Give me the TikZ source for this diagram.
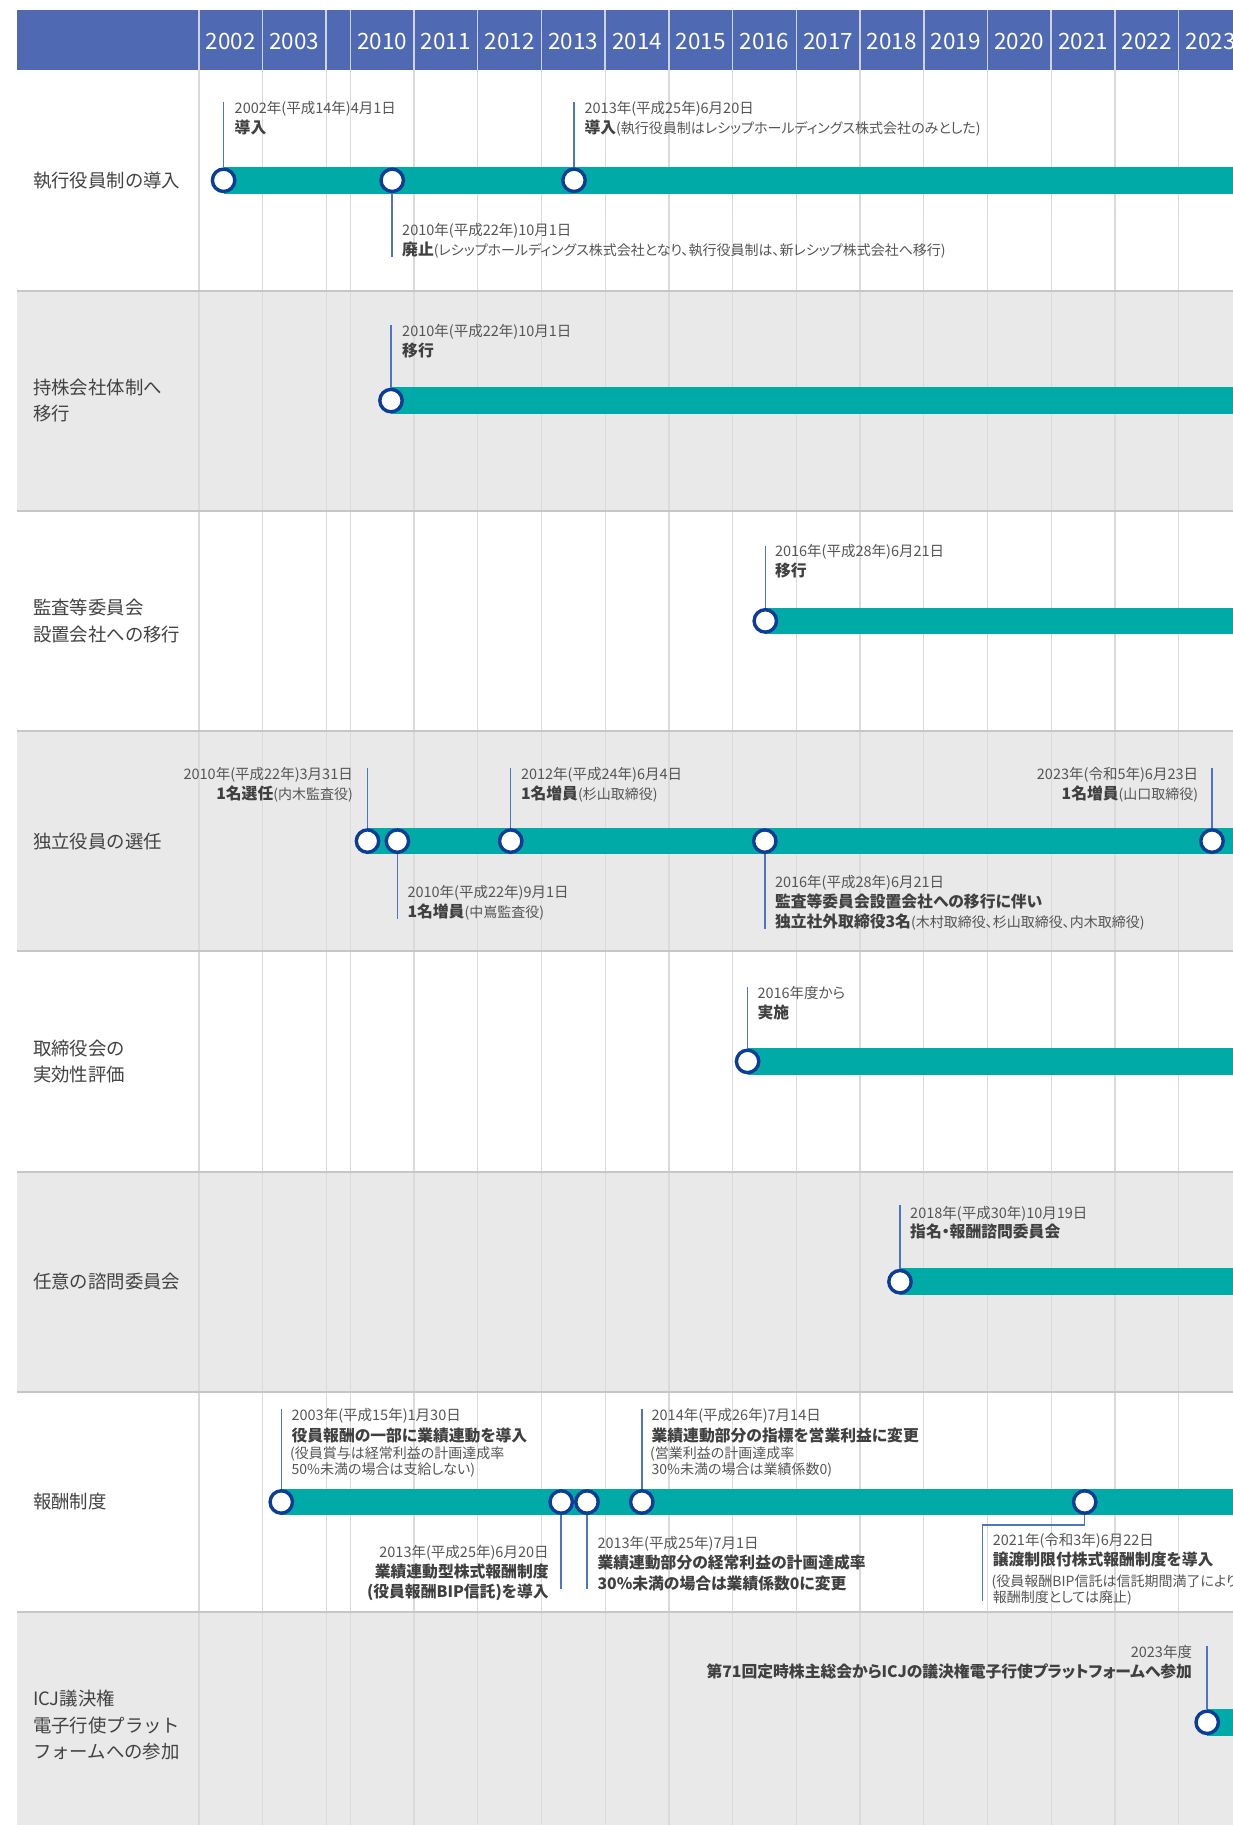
\documentclass[tikz,border=0pt]{standalone}
\usepackage{fontspec}
\setmainfont{Noto Sans CJK JP}[RawFeature=+palt]
\newfontfamily\yearfont{Noto Sans CJK JP}
\definecolor{hdr}{RGB}{79,105,178}
\definecolor{hdrline}{RGB}{205,212,235}
\definecolor{rowgray}{RGB}{233,233,233}
\definecolor{gridc}{RGB}{218,218,218}
\definecolor{sepc}{RGB}{198,198,198}
\definecolor{barteal}{RGB}{0,170,167}
\definecolor{evnavy}{RGB}{12,61,150}
\definecolor{pinblue}{RGB}{78,118,192}
\definecolor{datecol}{RGB}{85,85,85}
\definecolor{boldcol}{RGB}{64,64,64}
\definecolor{labcol}{RGB}{66,66,66}
\newcommand\smallnote[1]{{\mdseries\fontsize{14}{15}\selectfont\color{datecol}#1}}
\begin{document}
\begin{tikzpicture}[x=1pt,y=-1pt,
  evt/.style={circle, draw=evnavy, line width=3.4pt, fill=white, minimum size=22.4pt, inner sep=0pt},
  pinl/.style={draw=pinblue, line width=1.5pt},
  dt/.style={inner sep=0pt, text=datecol, font=\fontsize{14.5}{16}\selectfont, text height=12.7pt, text depth=1.8pt},
  bd/.style={inner sep=0pt, text=boldcol, font=\bfseries\fontsize{15.8}{17}\selectfont, text height=13.9pt, text depth=1.9pt},
  nt/.style={inner sep=0pt, text=datecol, font=\fontsize{14}{15}\selectfont, text height=12.3pt, text depth=1.7pt},
  lbl/.style={inner sep=0pt, text=labcol, font=\yearfont\fontsize{18.4}{26.3}\selectfont, align=left, anchor=west},
  yr/.style={text=white, font=\yearfont\fontsize{22.5}{24}\selectfont, inner sep=0pt, text height=16.4pt, text depth=0pt}
]
\useasboundingbox (0,0) rectangle (1233,1825);
\fill[white] (0,0) rectangle (1233,1825);
% row bands
\foreach \ya/\yb in {290.5/510.7, 731/951, 1171.5/1392, 1612/1840}
  \fill[rowgray] (17,\ya) rectangle (1240,\yb);
% grid
\foreach \gx in {198.9,262.6,326.2,350.3,414.0,477.7,541.4,605.2,668.9,732.6,796.3,860.0,923.8,987.5,1051.2,1114.9,1178.7}
  \draw[gridc, line width=1.3pt] (\gx,70) -- (\gx,1840);
\foreach \sy in {290.5,510.7,731,951,1171.5,1392,1612}
  \draw[sepc, line width=2pt] (17,\sy) -- (1240,\sy);
% header
\fill[hdr] (17,10) rectangle (1240,70);
\foreach \gx in {198.9,262.6,326.2,350.3,414.0,477.7,541.4,605.2,668.9,732.6,796.3,860.0,923.8,987.5,1051.2,1114.9,1178.7}
  \draw[hdrline, line width=1.5pt] (\gx,10) -- (\gx,70);
\foreach \yv/\xc in {2002/230.75,2003/294.4,2010/382.2,2011/445.9,2012/509.6,2013/573.3,2014/637.1,2015/700.8,2016/764.5,2017/828.2,2018/891.9,2019/955.6,2020/1019.4,2021/1083.1,2022/1146.8,2023/1210.5}
  \node[yr] (y\yv) at (\xc,41.2) {\yv};
% row labels
\node[lbl] (L1) at (32.8,180.3) {執行役員制の導入};
\node[lbl] (L2) at (32.8,400.6) {持株会社体制へ\\移行};
\node[lbl] (L3) at (32.8,620.9) {監査等委員会\\設置会社への移行};
\node[lbl] (L4) at (32.8,841.1) {独立役員の選任};
\node[lbl] (L5) at (32.8,1061.4) {取締役会の\\実効性評価};
\node[lbl] (L6) at (32.8,1281.7) {任意の諮問委員会};
\node[lbl] (L7) at (32.8,1502) {報酬制度};
\node[lbl] (L8) at (32.8,1725) {ICJ議決権\\電子行使プラット\\フォームへの参加};
% bars
\foreach \bx/\by in {223.6/180.3, 391.0/400.6, 765.3/620.9, 367.5/841.1, 747.6/1061.4, 900.0/1281.7, 281.3/1502, 1207.2/1722.3}
  \fill[barteal] (\bx,\by-13.3) rectangle (1240,\by+13.3);
% events
\node[evt] (r1a) at (223.6,180.3) {};
\node[evt] (r1b) at (392.2,180.3) {};
\node[evt] (r1c) at (574.0,180.3) {};
\node[evt] (r2a) at (391.0,400.6) {};
\node[evt] (r3a) at (765.3,620.9) {};
\node[evt] (r4a) at (367.5,841.1) {};
\node[evt] (r4b) at (397.4,841.1) {};
\node[evt] (r4c) at (510.7,841.1) {};
\node[evt] (r4d) at (764.8,841.1) {};
\node[evt] (r4e) at (1212.0,841.1) {};
\node[evt] (r5a) at (747.6,1061.4) {};
\node[evt] (r6a) at (900.0,1281.7) {};
\node[evt] (r7a) at (281.3,1502) {};
\node[evt] (r7b) at (561.2,1502) {};
\node[evt] (r7c) at (587.0,1502) {};
\node[evt] (r7d) at (641.8,1502) {};
\node[evt] (r7e) at (1084.7,1502) {};
\node[evt] (r8a) at (1207.2,1722.3) {};
% ---- row 1
\coordinate (r1a-t) at (223.6,102);
\draw[pinl] (r1a.north) -- (r1a-t);
\node[dt,anchor=west] (r1a-d) at (234.5,108) {2002年(平成14年)4月1日};
\node[bd,anchor=west] (r1a-m) at (234.5,127.7) {導入};
\coordinate (r1b-t) at (392.2,256.7);
\draw[pinl] (r1b.south) -- (r1b-t);
\node[dt,anchor=west] (r1b-d) at (402,230) {2010年(平成22年)10月1日};
\node[bd,anchor=west] (r1b-m) at (402,249.3) {廃止\smallnote{(レシップホールディングス株式会社となり、執行役員制は、新レシップ株式会社へ移行)}};
\coordinate (r1c-t) at (574.0,102);
\draw[pinl] (r1c.north) -- (r1c-t);
\node[dt,anchor=west] (r1c-d) at (584.4,108) {2013年(平成25年)6月20日};
\node[bd,anchor=west] (r1c-m) at (584.4,127.7) {導入\smallnote{(執行役員制はレシップホールディングス株式会社のみとした)}};
% ---- row 2
\coordinate (r2a-t) at (391.0,325);
\draw[pinl] (r2a.north) -- (r2a-t);
\node[dt,anchor=west] (r2a-d) at (402,331) {2010年(平成22年)10月1日};
\node[bd,anchor=west] (r2a-m) at (402,350) {移行};
% ---- row 3
\coordinate (r3a-t) at (765.3,545.7);
\draw[pinl] (r3a.north) -- (r3a-t);
\node[dt,anchor=west] (r3a-d) at (774.8,551) {2016年(平成28年)6月21日};
\node[bd,anchor=west] (r3a-m) at (774.8,570) {移行};
% ---- row 4
\coordinate (r4a-t) at (367.5,768.3);
\draw[pinl] (r4a.north) -- (r4a-t);
\node[dt,anchor=east] (r4a-d) at (353,774) {2010年(平成22年)3月31日};
\node[bd,anchor=east] (r4a-m) at (353,793.3) {1名選任\smallnote{(内木監査役)}};
\coordinate (r4b-t) at (397.4,919);
\draw[pinl] (r4b.south) -- (r4b-t);
\node[dt,anchor=west] (r4b-d) at (407.3,892.3) {2010年(平成22年)9月1日};
\node[bd,anchor=west] (r4b-m) at (407.3,911.7) {1名増員\smallnote{(中嶌監査役)}};
\coordinate (r4c-t) at (510.7,768.3);
\draw[pinl] (r4c.north) -- (r4c-t);
\node[dt,anchor=west] (r4c-d) at (520.8,774) {2012年(平成24年)6月4日};
\node[bd,anchor=west] (r4c-m) at (520.8,793.3) {1名増員\smallnote{(杉山取締役)}};
\coordinate (r4d-t) at (764.8,929.3);
\draw[pinl] (r4d.south) -- (r4d-t);
\node[dt,anchor=west] (r4d-d) at (774.8,881.7) {2016年(平成28年)6月21日};
\node[bd,anchor=west] (r4d-m) at (774.8,901) {監査等委員会設置会社への移行に伴い};
\node[bd,anchor=west] (r4d-n) at (774.8,921.7) {独立社外取締役3名\smallnote{(木村取締役、杉山取締役、内木取締役)}};
\coordinate (r4e-t) at (1212.0,768.3);
\draw[pinl] (r4e.north) -- (r4e-t);
\node[dt,anchor=east] (r4e-d) at (1198.3,774) {2023年(令和5年)6月23日};
\node[bd,anchor=east] (r4e-m) at (1198.3,793.3) {1名増員\smallnote{(山口取締役)}};
% ---- row 5
\coordinate (r5a-t) at (747.6,986.7);
\draw[pinl] (r5a.north) -- (r5a-t);
\node[dt,anchor=west] (r5a-d) at (757.3,993.3) {2016年度から};
\node[bd,anchor=west] (r5a-m) at (757.3,1012.7) {実施};
% ---- row 6
\coordinate (r6a-t) at (900.0,1205);
\draw[pinl] (r6a.north) -- (r6a-t);
\node[dt,anchor=west] (r6a-d) at (910,1212.7) {2018年(平成30年)10月19日};
\node[bd,anchor=west] (r6a-m) at (910,1231.7) {指名・報酬諮問委員会};
% ---- row 7
\coordinate (r7a-t) at (281.3,1409.3);
\draw[pinl] (r7a.north) -- (r7a-t);
\node[dt,anchor=west] (r7a-d) at (291.4,1415) {2003年(平成15年)1月30日};
\node[bd,anchor=west] (r7a-m) at (291.4,1435) {役員報酬の一部に業績連動を導入};
\node[nt,anchor=west] (r7a-n) at (290,1453.3) {(役員賞与は経常利益の計画達成率};
\node[nt,anchor=west] (r7a-o) at (291.4,1469.3) {50\%未満の場合は支給しない)};
\coordinate (r7b-t) at (561.2,1589);
\draw[pinl] (r7b.south) -- (r7b-t);
\node[dt,anchor=east] (r7b-d) at (548.8,1552) {2013年(平成25年)6月20日};
\node[bd,anchor=east] (r7b-m) at (548.8,1571.7) {業績連動型株式報酬制度};
\node[bd,anchor=east] (r7b-n) at (548.8,1591.7) {(役員報酬BIP信託)を導入};
\coordinate (r7c-t) at (587.0,1589);
\draw[pinl] (r7c.south) -- (r7c-t);
\node[dt,anchor=west] (r7c-d) at (597.3,1543.3) {2013年(平成25年)7月1日};
\node[bd,anchor=west] (r7c-m) at (597.3,1562.7) {業績連動部分の経常利益の計画達成率};
\node[bd,anchor=west] (r7c-n) at (597.3,1583.3) {30\%未満の場合は業績係数0に変更};
\coordinate (r7d-t) at (641.8,1409.3);
\draw[pinl] (r7d.north) -- (r7d-t);
\node[dt,anchor=west] (r7d-d) at (651.4,1415) {2014年(平成26年)7月14日};
\node[bd,anchor=west] (r7d-m) at (651.4,1435) {業績連動部分の指標を営業利益に変更};
\node[nt,anchor=west] (r7d-n) at (650,1453.3) {(営業利益の計画達成率};
\node[nt,anchor=west] (r7d-o) at (651.4,1469.3) {30\%未満の場合は業績係数0)};
\coordinate (r7e-k) at (982.7,1525);
\coordinate (r7e-t) at (982.7,1601);
\draw[pinl] (r7e.south) |- (r7e-k) -- (r7e-t);
\node[dt,anchor=west] (r7e-d) at (992.6,1540) {2021年(令和3年)6月22日};
\node[bd,anchor=west] (r7e-m) at (992.6,1559.3) {譲渡制限付株式報酬制度を導入};
\node[nt,anchor=west] (r7e-n) at (991.5,1581) {(役員報酬BIP信託は信託期間満了により};
\node[nt,anchor=west] (r7e-o) at (992.6,1596.7) {報酬制度としては廃止)};
% ---- row 8
\coordinate (r8a-t) at (1207.2,1646);
\draw[pinl] (r8a.north) -- (r8a-t);
\node[dt,anchor=east] (r8a-d) at (1192.2,1651.7) {2023年度};
\node[bd,anchor=east] (r8a-m) at (1192.2,1671.7) {第71回定時株主総会からICJの議決権電子行使プラットフォームへ参加};
\end{tikzpicture}
\end{document}
